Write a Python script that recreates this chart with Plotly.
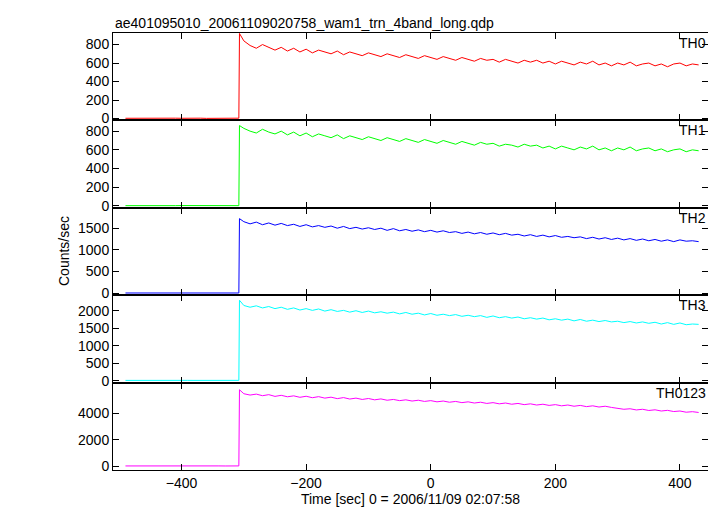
import plotly.graph_objects as go
from plotly.subplots import make_subplots

# time grid (sec): quiet background, onset at about -308 s, then 10 s bins
t_pre = [t for t in range(-490, -309, 10)] + [-308]
t_post = [-307] + [t for t in range(-300, 431, 10)]
time = t_pre + t_post

bands = ["TH0", "TH1", "TH2", "TH3", "TH0123"]
colors = ["#ff0000", "#00ff00", "#0000ff", "#00ffff", "#ff00ff"]

th0 = [3, 4, 2, 5, 3, 4, 3, 2, 4, 3, 5, 3, 4, 2, 3, 4, 3, 5, 3, 4,
       920,
       840, 790, 760, 800, 770, 740, 770, 730, 760, 720,
       750, 710, 740, 720, 700, 730, 690, 720, 700, 680,
       710, 690, 670, 700, 680, 660, 690, 670, 650, 680,
       660, 640, 670, 650, 630, 660, 640, 620, 650, 630,
       640, 610, 640, 620, 600, 630, 610, 630, 600, 620,
       590, 620, 600, 580, 610, 590, 620, 580, 600, 570,
       600, 580, 610, 570, 590, 600, 570, 590, 560, 590,
       600, 570, 590, 580]
th1 = [3, 2, 4, 3, 5, 3, 2, 4, 3, 4, 3, 5, 2, 3, 4, 3, 2, 4, 3, 3,
       860,
       830, 800, 780, 820, 790, 770, 800, 760, 790, 750,
       780, 740, 770, 750, 730, 760, 720, 750, 730, 710,
       740, 720, 700, 730, 710, 690, 720, 700, 680, 710,
       690, 670, 700, 680, 660, 690, 670, 650, 680, 660,
       670, 640, 660, 650, 630, 660, 640, 650, 620, 640,
       610, 640, 620, 600, 630, 610, 640, 600, 620, 590,
       620, 600, 630, 590, 610, 620, 590, 610, 580, 600,
       610, 580, 600, 590]
th2 = [6, 5, 8, 6, 7, 5, 6, 8, 5, 7, 6, 5, 7, 6, 8, 5, 6, 7, 6, 6,
       1720,
       1650, 1600, 1640, 1580, 1620, 1570, 1610, 1560, 1590, 1540,
       1580, 1530, 1560, 1520, 1550, 1500, 1540, 1490, 1520, 1480,
       1510, 1470, 1500, 1450, 1490, 1440, 1470, 1430, 1460, 1420,
       1450, 1410, 1440, 1400, 1420, 1380, 1410, 1370, 1400, 1360,
       1390, 1350, 1380, 1340, 1360, 1320, 1350, 1310, 1340, 1300,
       1330, 1290, 1310, 1280, 1300, 1260, 1290, 1250, 1280, 1240,
       1270, 1230, 1260, 1220, 1250, 1210, 1240, 1200, 1230, 1190,
       1230, 1200, 1210, 1190]
th3 = [8, 10, 7, 9, 8, 11, 9, 8, 10, 7, 9, 8, 10, 9, 7, 8, 10, 9, 8, 9,
       2300,
       2150, 2100, 2140, 2080, 2120, 2060, 2100, 2040, 2080, 2020,
       2060, 2010, 2050, 1990, 2030, 1980, 2010, 1960, 2000, 1950,
       1990, 1940, 1970, 1930, 1960, 1910, 1950, 1900, 1930, 1880,
       1920, 1870, 1900, 1860, 1890, 1840, 1870, 1830, 1860, 1810,
       1850, 1800, 1830, 1790, 1820, 1770, 1800, 1760, 1790, 1740,
       1770, 1730, 1760, 1710, 1750, 1700, 1730, 1690, 1720, 1680,
       1700, 1660, 1690, 1650, 1680, 1640, 1670, 1620, 1660, 1610,
       1650, 1600, 1620, 1610]
th0123 = [20, 24, 18, 22, 21, 25, 19, 23, 20, 22, 24, 19, 21, 23, 20, 22, 18, 24, 21, 22,
          5750,
          5450, 5350, 5420, 5300, 5380, 5250, 5330, 5220, 5290, 5180,
          5260, 5150, 5230, 5120, 5190, 5080, 5160, 5050, 5120, 5020,
          5090, 4990, 5060, 4960, 5020, 4930, 4990, 4900, 4960, 4870,
          4930, 4840, 4900, 4810, 4870, 4780, 4840, 4750, 4810, 4720,
          4780, 4690, 4750, 4660, 4720, 4630, 4690, 4600, 4660, 4570,
          4630, 4540, 4600, 4510, 4570, 4480, 4540, 4450, 4510, 4420,
          4350, 4280, 4320, 4230, 4280, 4190, 4240, 4150, 4200, 4110,
          4150, 4060, 4100, 4040]
series = [th0, th1, th2, th3, th0123]

y_ranges = [[-20, 925], [-20, 915], [-45, 1970], [-55, 2444], [-285, 6286]]
y_ticks = [[0, 200, 400, 600, 800], [0, 200, 400, 600, 800],
           [0, 500, 1000, 1500], [0, 500, 1000, 1500, 2000], [0, 2000, 4000]]

fig = make_subplots(rows=5, cols=1, shared_xaxes=True, vertical_spacing=0)
for i, (name, col, vals) in enumerate(zip(bands, colors, series)):
    fig.add_trace(go.Scatter(x=time, y=vals, mode="lines", name=name,
                             line=dict(color=col, width=1)), row=i + 1, col=1)
    fig.update_yaxes(range=y_ranges[i], tickvals=y_ticks[i], row=i + 1, col=1)
    yref = "y domain" if i == 0 else "y%d domain" % (i + 1)
    fig.add_annotation(text=name, xref="x domain", yref=yref, x=1, y=1,
                       xanchor="right", yanchor="top", showarrow=False,
                       font=dict(size=14, color="black"))

axis_style = dict(showline=True, linecolor="black", linewidth=1, mirror="ticks",
                  ticks="inside", ticklen=6, tickcolor="black", showgrid=False,
                  zeroline=False, tickfont=dict(size=14, color="black"))
fig.update_xaxes(range=[-510, 445], tickvals=[-400, -200, 0, 200, 400], **axis_style)
fig.update_yaxes(**axis_style)
fig.update_xaxes(title=dict(text="Time [sec] 0 = 2006/11/09 02:07:58",
                            font=dict(size=14, color="black"), standoff=2), row=5, col=1)

fig.add_annotation(text="Counts/sec", xref="paper", yref="paper", x=-0.1, y=0.5,
                   textangle=-90, showarrow=False, font=dict(size=14, color="black"))
fig.add_annotation(text="ae401095010_20061109020758_wam1_trn_4band_long.qdp",
                   xref="paper", yref="paper", x=0, y=1, xanchor="left",
                   yanchor="bottom", showarrow=False, font=dict(size=14, color="black"))

fig.update_layout(autosize=True, showlegend=False,
                  plot_bgcolor="white", paper_bgcolor="white",
                  font=dict(family="Liberation Sans, Arial, sans-serif"),
                  margin=dict(l=105, r=0, t=25, b=38))
fig.write_html("out.html", default_width="100%", default_height="100%")
